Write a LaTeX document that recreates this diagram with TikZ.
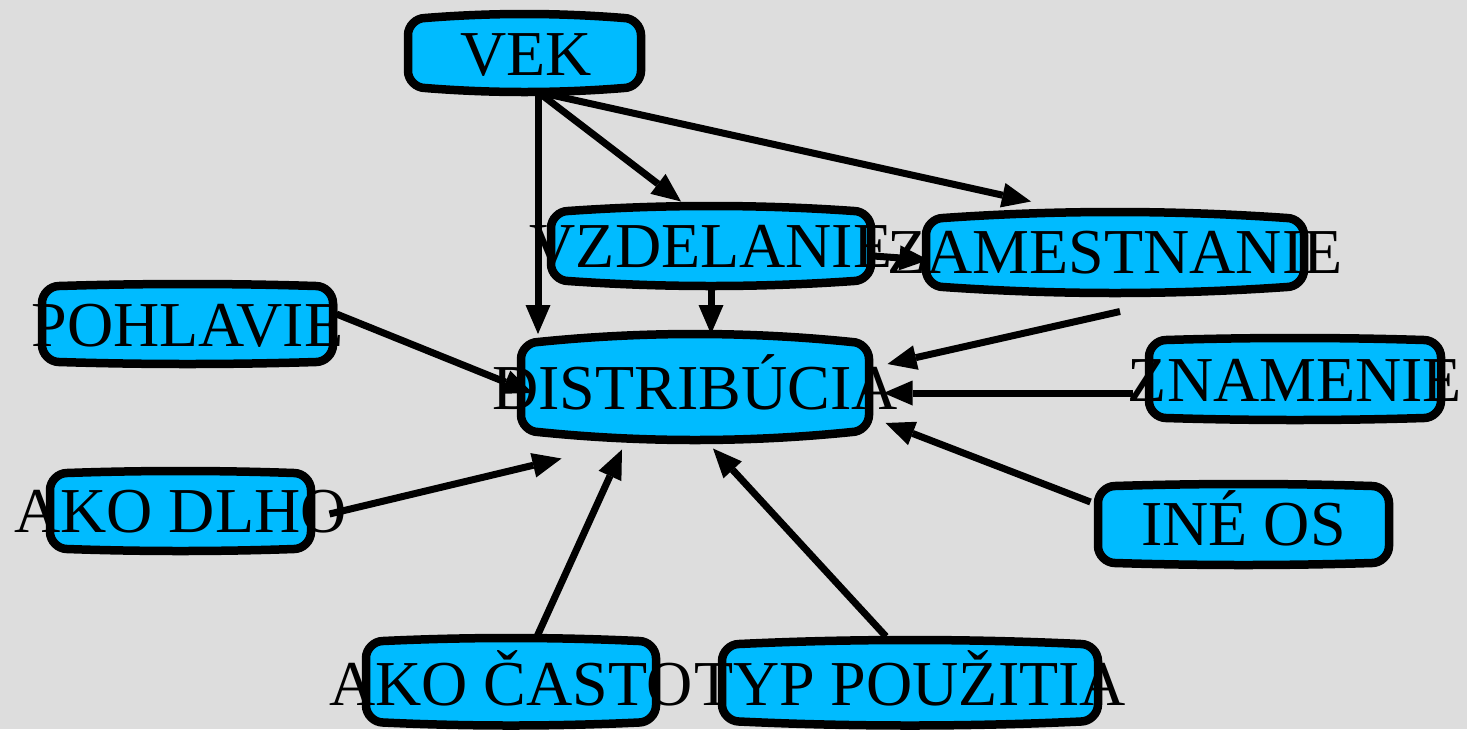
\documentclass[tikz,border=0pt]{standalone}
\usepackage{fontspec}
\setmainfont{Liberation Serif}
\usetikzlibrary{arrows.meta,calc}
\definecolor{bgcol}{RGB}{221,221,221}
\definecolor{boxblue}{RGB}{0,187,255}
\newcommand{\roundbox}[2]{%
  \draw[boxline] let \p1=(#1.north west), \p2=(#1.south east),
      \n1={(\x2-\x1-34pt)/3} in
    (\x1,\y2+#2+17pt) -- (\x1,\y1-#2-17pt)
    .. controls (\x1,\y1-#2-8pt) and (\x1+8pt,\y1-#2) .. (\x1+17pt,\y1-#2)
    .. controls (\x1+17pt+\n1,\y1+#2/3) and (\x2-17pt-\n1,\y1+#2/3) .. (\x2-17pt,\y1-#2)
    .. controls (\x2-8pt,\y1-#2) and (\x2,\y1-#2-8pt) .. (\x2,\y1-#2-17pt)
    -- (\x2,\y2+#2+17pt)
    .. controls (\x2,\y2+#2+8pt) and (\x2-8pt,\y2+#2) .. (\x2-17pt,\y2+#2)
    .. controls (\x2-17pt-\n1,\y2-#2/3) and (\x1+17pt+\n1,\y2-#2/3) .. (\x1+17pt,\y2+#2)
    .. controls (\x1+8pt,\y2+#2) and (\x1,\y2+#2+8pt) .. cycle;}
\tikzset{
  boxn/.style={rectangle, draw=none, inner sep=0pt, outer sep=0pt},
  boxline/.style={draw=black, line width=8.5pt, fill=boxblue},
  lbl/.style={anchor=base, inner sep=0pt, font=\fontsize{64}{70}\selectfont, text=black},
  arr/.style={draw=black, line width=7pt, -{Triangle[length=29pt,width=25pt,line width=0pt]}}
}
\begin{document}
\begin{tikzpicture}[x=1pt,y=-1pt]
\fill[bgcol] (0,0) rectangle (1467,729);
\useasboundingbox (0,0) rectangle (1467,729);
% boxes
\node[boxn, minimum width=233pt, minimum height=78pt] (vek) at (524.5,53) {};
\node[boxn, minimum width=320pt, minimum height=80pt] (vzd) at (711,246) {};
\node[boxn, minimum width=378pt, minimum height=81pt] (zam) at (1115,252.5) {};
\node[boxn, minimum width=291pt, minimum height=80pt] (poh) at (187.5,324) {};
\node[boxn, minimum width=348pt, minimum height=106pt] (dist) at (695,387) {};
\node[boxn, minimum width=292pt, minimum height=82pt] (zna) at (1295,379) {};
\node[boxn, minimum width=261pt, minimum height=80pt] (dlho) at (180.5,511) {};
\node[boxn, minimum width=291pt, minimum height=81pt] (ine) at (1243.5,524.5) {};
\node[boxn, minimum width=290pt, minimum height=87.5pt] (cas) at (511,681.75) {};
\node[boxn, minimum width=376pt, minimum height=85.5pt] (typ) at (910,682.75) {};
\roundbox{vek}{4pt}
\roundbox{vzd}{5pt}
\roundbox{zam}{6pt}
\roundbox{poh}{2pt}
\roundbox{dist}{8pt}
\roundbox{zna}{2pt}
\roundbox{dlho}{2pt}
\roundbox{ine}{2pt}
\roundbox{cas}{3pt}
\roundbox{typ}{4pt}
% connectors
\coordinate (vekout) at ($(vek.south)+(13.5,0)$);
\draw[arr] (vekout) -- (vekout |- dist.north);
\draw[arr] (vekout) -- ($(vzd.north)+(-30,-4.5)$);
\draw[arr] (vekout) -- ($(zam.north)+(-84,-10.5)$);
\draw[arr] (vzd.south) -- (vzd.south |- dist.north);
\draw[arr] ($(vzd.east)+(2.5,10)$) -- ($(zam.west)+(2.5,7.5)$);
\coordinate (zamout) at ($(zam.south)+(5,18.5)$);
\draw[arr] (zamout) -- ($(dist.east)+(18.5,-23)$);
\draw[arr] ($(zna.west)+(-16.5,14)$) -- ($(dist.east)+(14.5,6)$);
\draw[arr] ($(ine.west)+(-7.5,-22.5)$) -- ($(dist.east)+(16.5,36)$);
\draw[arr] ($(typ.north)+(-24,-3.5)$) -- ($(dist.south)+(18,8.5)$);
\draw[arr] ($(cas.north)+(26,-1.5)$) -- ($(dist.south)+(-73,9.5)$);
\draw[arr] ($(dlho.east)+(18.5,3)$) -- ($(dist.south west)+(40.5,18.5)$);
\draw[arr] ($(poh.east)+(3.5,-10)$) -- ($(dist.west)+(11.5,6)$);
% labels
\node[lbl] (vek-t) at ($(vek.center)+(1.5,22)$) {VEK};
\node[lbl] (vzd-t) at ($(vzd.center)+(0,21)$) {VZDELANIE};
\node[lbl] (zam-t) at ($(zam.center)+(0,21)$) {ZAMESTNANIE};
\node[lbl] (poh-t) at ($(poh.center)+(0,22.5)$) {POHLAVIE};
\node[lbl] (dist-t) at ($(dist.center)+(0,22)$) {DISTRIBÚCIA};
\node[lbl] (zna-t) at ($(zna.center)+(0,22)$) {ZNAMENIE};
\node[lbl] (dlho-t) at ($(dlho.center)+(0,21)$) {AKO DLHO};
\node[lbl] (ine-t) at ($(ine.center)+(0,21)$) {INÉ OS};
\node[lbl] (cas-t) at ($(cas.center)+(0,24)$) {AKO ČASTO};
\node[lbl] (typ-t) at ($(typ.center)+(0,23)$) {TYP POUŽITIA};
\end{tikzpicture}
\end{document}
